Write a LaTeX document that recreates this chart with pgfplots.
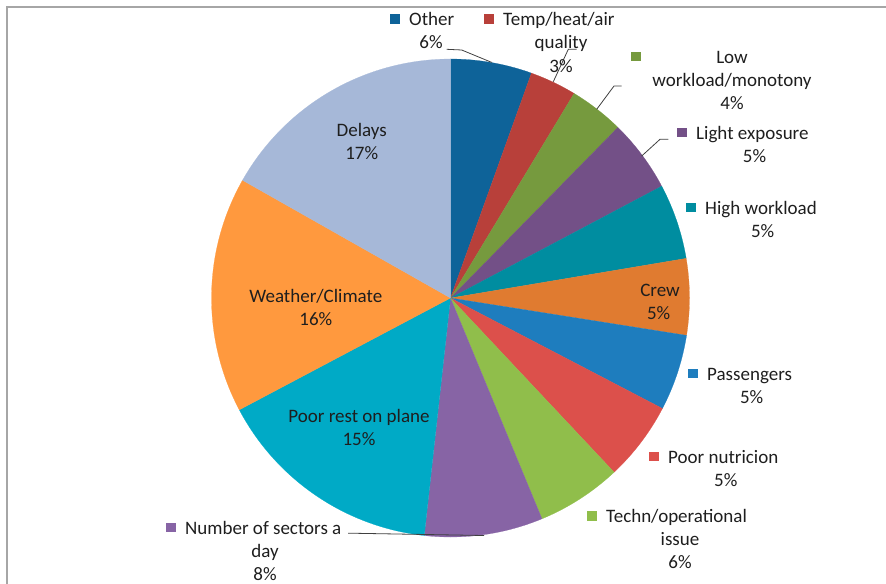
\documentclass[border=0pt]{standalone}
\usepackage{pgfplots}
\pgfplotsset{compat=1.18}
\usepackage{fontspec}
\setmainfont{Carlito}

\definecolor{cOther}{HTML}{0E6399}
\definecolor{cTemp}{HTML}{B8403A}
\definecolor{cLow}{HTML}{769A3E}
\definecolor{cLight}{HTML}{735087}
\definecolor{cHigh}{HTML}{008DA0}
\definecolor{cCrew}{HTML}{E07B30}
\definecolor{cPass}{HTML}{1E7DBE}
\definecolor{cNutr}{HTML}{DC504B}
\definecolor{cTechn}{HTML}{90BE4B}
\definecolor{cSect}{HTML}{8764A5}
\definecolor{cRest}{HTML}{00AAC6}
\definecolor{cWeather}{HTML}{FF993E}
\definecolor{cDelays}{HTML}{A6B8D8}
\definecolor{txt}{HTML}{1E1E1E}

% pie: centre (450.5,298), radius 239 (picture units), clockwise from the top
\newcommand{\acc}{0}
\newcommand{\slice}[2]{%
  \pgfmathsetmacro{\newacc}{\acc+#1}%
  \edef\doslice{\noexpand\addplot[fill=#2, draw=#2, line width=0.2bp, domain=\acc:\newacc, samples=60, variable=\noexpand\t]
    ({450.5+239*sin(3.6*\noexpand\t)},{298-239*cos(3.6*\noexpand\t)}) -- (axis cs:450.5,298) -- cycle;}%
  \doslice
  \xdef\acc{\newacc}%
}
\newcommand{\key}[1]{\textcolor{#1}{\rule[2bp]{9.5bp}{9.5bp}}\hspace{9.5bp}}

\begin{document}
\begin{tikzpicture}[every node/.style={font=\fontsize{19bp}{23bp}\selectfont, text=txt, inner sep=0pt}]
\begin{axis}[at={(0,0)}, anchor=south west, scale only axis,
  width=886bp, height=584bp, xmin=0, xmax=886, ymin=0, ymax=584,
  y dir=reverse, hide axis, clip=false]
% slices (percent of the circle)
\slice{5.5}{cOther}
\slice{3.15}{cTemp}
\slice{3.7}{cLow}
\slice{4.9}{cLight}
\slice{5.1}{cHigh}
\slice{5.15}{cCrew}
\slice{5.15}{cPass}
\slice{5.35}{cNutr}
\slice{5.75}{cTechn}
\slice{8.0}{cSect}
\slice{15.5}{cRest}
\slice{15.95}{cWeather}
\slice{16.8}{cDelays}

% frame (top and left)
\draw[color=black!35, line width=2bp] (axis cs:7,584) -- (axis cs:7,7.5) -- (axis cs:886,7.5);

% leader lines
\draw[black!75, line width=0.8bp] (axis cs:446.7,49.3) -- (axis cs:461.7,50) -- (axis cs:491.7,62.4);
\draw[black!75, line width=0.8bp] (axis cs:576.7,49.3) -- (axis cs:568.3,49.3) -- (axis cs:553.3,81.7);
\draw[black!75, line width=0.8bp] (axis cs:621.7,86) -- (axis cs:614,86) -- (axis cs:596.7,109.3);
\draw[black!75, line width=0.8bp] (axis cs:668.3,139.3) -- (axis cs:660,139.3) -- (axis cs:641.7,156);
\draw[black!75, line width=0.8bp] (axis cs:348,533.3) -- (axis cs:356,533.3) -- (axis cs:484,535.5);

% outside labels
\node[anchor=base west] at (axis cs:390,26) {\key{cOther}Other};
\node[anchor=base] at (axis cs:431,49) {6\%};
\node[anchor=base west] at (axis cs:484,26) {\key{cTemp}Temp/heat/air};
\node[anchor=base] at (axis cs:561,49) {quality};
\node[anchor=base] at (axis cs:561,72.7) {3\%};
\node[anchor=base west] at (axis cs:631,63.5) {\textcolor{cLow}{\rule[2bp]{9.5bp}{9.5bp}}};
\node[anchor=base] at (axis cs:732,63.5) {Low};
\node[anchor=base] at (axis cs:732,86.5) {workload/monotony};
\node[anchor=base] at (axis cs:732,109.5) {4\%};
\node[anchor=base west] at (axis cs:677,139.3) {\key{cLight}Light exposure};
\node[anchor=base] at (axis cs:754.5,162.3) {5\%};
\node[anchor=base west] at (axis cs:686,214) {\key{cHigh}High workload};
\node[anchor=base] at (axis cs:762.7,237) {5\%};
\node[anchor=base west] at (axis cs:688,380) {\key{cPass}Passengers};
\node[anchor=base] at (axis cs:751.7,403) {5\%};
\node[anchor=base west] at (axis cs:649,463.3) {\key{cNutr}Poor nutricion};
\node[anchor=base] at (axis cs:725.8,486.3) {5\%};
\node[anchor=base west] at (axis cs:587,522.7) {\key{cTechn}Techn/operational};
\node[anchor=base] at (axis cs:680,545.7) {issue};
\node[anchor=base] at (axis cs:680,568.7) {6\%};
\node[anchor=base west] at (axis cs:166,534) {\key{cSect}Number of sectors a};
\node[anchor=base] at (axis cs:265,557) {day};
\node[anchor=base] at (axis cs:265,580) {8\%};

% inside labels
\node[anchor=base] at (axis cs:660,296.3) {Crew};
\node[anchor=base] at (axis cs:658.7,319.3) {5\%};
\node[anchor=base] at (axis cs:361.7,136.7) {Delays};
\node[anchor=base] at (axis cs:361.7,159.7) {17\%};
\node[anchor=base] at (axis cs:315.8,302.7) {Weather/Climate};
\node[anchor=base] at (axis cs:315.8,325.7) {16\%};
\node[anchor=base] at (axis cs:359,422.7) {Poor rest on plane};
\node[anchor=base] at (axis cs:359,445.7) {15\%};
\end{axis}
\pgfresetboundingbox
\path[use as bounding box] (0,0) rectangle (886bp,584bp);
\end{tikzpicture}
\end{document}
